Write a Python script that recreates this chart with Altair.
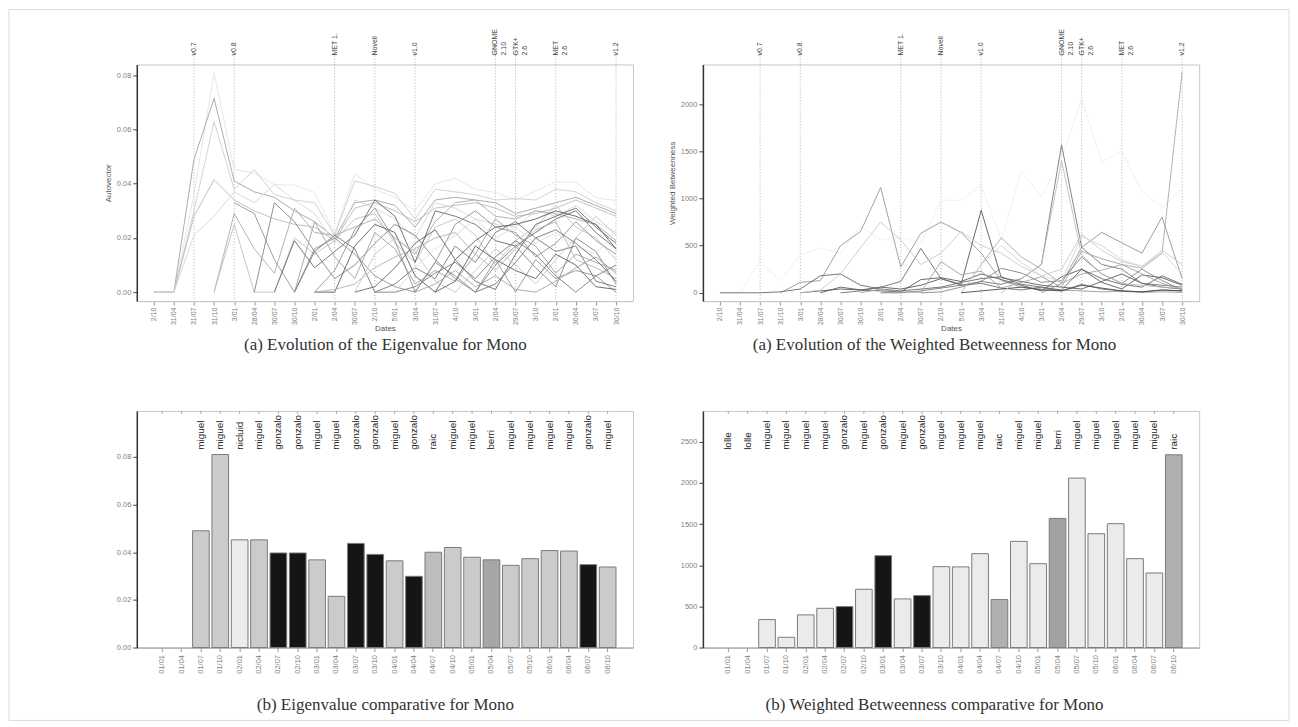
import altair as alt
import pandas as pd

N = None

# ---------------- data ----------------
top_dates = ["2/10", "31/04", "31/07", "31/10", "3/01", "28/04", "30/07", "30/10",
             "2/01", "2/04", "30/07", "2/10", "5/01", "3/04", "31/07", "4/10",
             "3/01", "2/04", "29/07", "3/10", "2/01", "30/04", "3/07", "30/10"]

bar_dates = ["01/01", "01/04", "01/07", "01/10", "02/01", "02/04", "02/07", "02/10",
             "03/01", "03/04", "03/07", "03/10", "04/01", "04/04", "04/07", "04/10",
             "05/01", "05/04", "05/07", "05/10", "06/01", "06/04", "06/07", "06/10"]

release_pos = [2, 4, 9, 11, 13, 17, 18, 20, 23]
release_labels = ["v0.7", "v0.8", "MET 1.", "Novell", "v1.0",
                  "GNOME\n2.10", "GTK+\n2.6", "MET\n2.6", "v1.2"]

# Eigenvalue per developer over time
eig_series = {
    "s01": [0, 0, .036, .081, .0452, .0440, .0397, .0395, .0368, .0215, .0437, .0380, .0350, .0299, .0400, .0420, .0379, .0368, .0340, .0373, .0407, .0405, .0348, .0338],
    "s02": [0, 0, .049, .0715, .041, .037, .035, .030, .026, .020, .033, .034, .032, .024, .034, .035, .034, .033, .029, .031, .033, .035, .032, .029],
    "s03": [0, 0, .030, .063, .038, .0452, .036, .034, .033, .021, .041, .039, .0364, .027, .038, .037, .036, .034, .0345, .034, .038, .037, .033, .030],
    "s04": [0, 0, .028, .0415, .034, .030, .027, .025, .024, .019, .031, .033, .030, .026, .031, .032, .033, .031, .028, .029, .031, .034, .031, .028],
    "s05": [0, 0, .021, .028, .037, .033, .0397, .034, .029, .018, .034, .031, .027, .020, .033, .031, .027, .025, .024, .030, .028, .032, .026, .022],
    "s06": [N, N, N, 0, .029, .016, .007, .031, .022, .021, .024, .027, .020, .014, .026, .033, .034, .028, .027, .030, .029, .027, .025, .019],
    "s07": [N, N, N, 0, .025, 0, 0, .020, .014, .019, .027, .029, .018, .011, .024, .027, .021, .010, .019, .024, .032, .024, .020, .012],
    "s08": [N, N, N, N, .033, .029, .012, 0, .016, .020, .014, .006, .002, 0, .011, .006, 0, .012, 0, .012, .005, .008, .006, 0],
    "s09": [N, N, N, N, N, 0, .033, .026, .015, .005, .010, .018, .025, .021, .012, .005, 0, .010, .017, .009, .002, .020, .015, .003],
    "s10": [N, N, N, N, N, N, 0, .019, .009, .015, .021, .034, .028, .011, .030, .028, .025, .019, .017, .022, .027, .030, .022, .016],
    "s11": [N, N, N, N, N, N, N, 0, .015, .021, .016, 0, .003, .009, .005, .017, .011, .022, .026, .020, .015, .017, .004, .002],
    "s12": [N, N, N, N, N, N, N, 0, .026, .013, .005, .022, .016, .003, .008, .004, .014, .027, .021, .017, .007, .014, .011, .008],
    "s13": [N, N, N, N, N, N, N, N, 0, 0, .017, .025, .022, .006, 0, .012, .019, .024, .025, .027, .030, .028, .025, .016],
    "s14": [N, N, N, N, N, N, N, N, 0, .008, .023, .031, .019, 0, .011, .025, .030, .024, .022, .013, .018, .026, .019, .014],
    "s15": [N, N, N, N, N, N, N, N, 0, .001, .003, .009, .013, .016, .020, .022, .014, .008, .016, .023, .026, .012, .009, .005],
    "s16": [N, N, N, N, N, N, N, N, N, N, 0, .002, .009, .018, .023, .012, .004, .001, .014, .025, .028, .031, .024, .018],
    "s17": [N, N, N, N, N, N, N, N, N, N, 0, .014, .020, .015, .004, 0, .008, .016, .010, .003, .012, .020, .028, .021],
    "s18": [N, N, N, N, N, N, N, N, N, N, N, 0, 0, .002, .007, .011, .005, .013, .019, .014, .006, 0, .006, .010],
    "s19": [N, N, N, N, N, N, N, N, N, N, N, N, 0, .009, .016, .021, .027, .020, .024, .018, .022, .017, .014, .023],
    "s20": [N, N, N, N, N, N, N, N, N, N, N, N, N, 0, .003, .008, .002, .006, .001, 0, .004, .009, .013, .007],
    "s21": [N, N, N, N, N, N, N, N, N, N, N, N, N, N, 0, .004, .017, .012, .008, .005, .014, .010, .002, .001],
    "s22": [N, N, N, N, N, N, N, N, N, N, N, N, N, N, N, N, 0, .003, .011, .020, .023, .018, .012, .004],
}
eig_grays = ["#e4e4e4", "#a4a4a4", "#cdcdcd", "#bababa", "#d6d6d6", "#ababab", "#c2c2c2", "#939393",
             "#858585", "#6a6a6a", "#777777", "#a2a2a2", "#5e5e5e", "#919191", "#b2b2b2", "#666666",
             "#c6c6c6", "#7e7e7e", "#dcdcdc", "#a3a3a3", "#606060", "#747474"]

# Weighted betweenness per developer over time
btw_series = {
    "r01": [0, 0, 340, 125, 397, 477, 420, 708, 560, 591, 520, 983, 980, 1141, 560, 1290, 1019, 1420, 2059, 1383, 1505, 1080, 906, 1100],
    "r02": [N, N, N, 0, 110, 130, 498, 650, 1116, 275, 631, 750, 640, 420, 130, 60, 40, 30, 20, 10, 15, 5, 10, 5],
    "r03": [N, N, N, N, 0, 20, 40, 30, 60, 40, 80, 150, 89, 875, 160, 120, 80, 60, 40, 120, 200, 100, 60, 40],
    "r04": [N, N, N, N, N, N, N, N, 0, 0, 20, 50, 80, 120, 90, 150, 300, 1569, 482, 300, 250, 100, 80, 60],
    "r05": [N, N, N, N, N, N, N, N, N, N, N, N, 0, 300, 583, 380, 250, 100, 200, 240, 300, 260, 420, 2342],
    "r06": [N, N, N, N, N, N, N, N, N, N, N, N, N, N, N, N, 0, 100, 482, 640, 530, 420, 803, 150],
    "r07": [N, N, N, N, N, N, 0, 20, 60, 120, 470, 150, 80, 100, 50, 30, 60, 20, 90, 40, 20, 10, 30, 20],
    "r08": [N, N, N, N, 0, 30, 200, 480, 750, 560, 300, 420, 650, 500, 420, 280, 180, 250, 620, 450, 330, 280, 450, 300],
    "r09": [0, 0, 0, 10, 40, 180, 200, 80, 40, 20, 40, 60, 110, 150, 170, 90, 60, 30, 250, 150, 90, 60, 180, 90],
    "r10": [N, N, N, N, N, 0, 60, 30, 20, 10, 140, 160, 120, 200, 140, 80, 20, 170, 250, 110, 40, 190, 160, 80],
    "r11": [N, N, N, N, N, N, N, 0, 40, 10, 5, 330, 190, 230, 50, 110, 170, 60, 440, 360, 300, 200, 100, 40],
    "r12": [N, N, N, N, N, N, N, N, N, N, 0, 10, 60, 120, 260, 210, 110, 130, 380, 200, 100, 250, 130, 30],
    "r13": [N, N, N, N, N, N, N, N, N, N, N, N, 0, 300, 500, 320, 180, 120, 600, 500, 350, 280, 430, 200],
    "r14": [N, N, N, N, N, N, N, N, N, N, N, N, 0, 20, 40, 60, 30, 20, 80, 50, 20, 10, 30, 20],
    "r15": [N, N, N, N, N, N, N, N, N, N, N, N, N, N, 0, 150, 300, 1400, 400, 200, 100, 80, 60, 50],
}
btw_grays = ["#eeeeee", "#999999", "#5a5a5a", "#777777", "#a8a8a8", "#949494", "#707070", "#cacaca",
             "#6a6a6a", "#5a5a5a", "#a2a2a2", "#858585", "#d4d4d4", "#4a4a4a", "#bebebe"]

# Comparative (maximum per date)
eig_top_names = ["", "", "miguel", "miguel", "nicluid", "miguel", "gonzalo", "gonzalo",
                 "miguel", "miguel", "gonzalo", "gonzalo", "miguel", "gonzalo", "raic", "miguel",
                 "miguel", "berri", "miguel", "miguel", "miguel", "miguel", "gonzalo", "miguel"]
eig_top_values = [0, 0, .049, .081, .0452, .0452, .0397, .0397, .0368, .0215, .0437, .0391,
                  .0364, .0299, .0400, .0420, .0379, .0368, .0345, .0373, .0407, .0405, .0348, .0338]

btw_top_names = ["lolle", "lolle", "miguel", "miguel", "miguel", "miguel", "gonzalo", "miguel",
                 "gonzalo", "miguel", "gonzalo", "miguel", "miguel", "miguel", "raic", "miguel",
                 "miguel", "berri", "miguel", "miguel", "miguel", "miguel", "miguel", "raic"]
btw_top_values = [0, 0, 340, 125, 397, 477, 498, 708, 1116, 591, 631, 983,
                  980, 1141, 583, 1290, 1019, 1569, 2059, 1383, 1505, 1080, 906, 2342]

W, H = 497, 237
SANS = "Liberation Sans"
SERIF = "Liberation Serif"


def line_df(series):
    rows = []
    for name, vals in series.items():
        for i, v in enumerate(vals):
            if v is not None:
                rows.append({"s": name, "i": i, "v": v})
    return pd.DataFrame(rows)


one = pd.DataFrame({"k": [0]})
ann_df = pd.DataFrame({"i": release_pos, "label": release_labels})
label_expr = "[" + ",".join("'%s'" % d for d in top_dates) + "][datum.value]"
idx = list(range(len(top_dates)))
xscale_line = alt.Scale(type="point", domain=idx, padding=0.845)


def caption(text, cx, cy):
    return alt.Chart(one).mark_text(font=SERIF, fontSize=17, color="#333").encode(
        x=alt.value(cx), y=alt.value(cy), text=alt.value(text))


def line_panel(series, grays, ydomain, yvals, yfmt, ytitle, cap, capx):
    df = line_df(series)
    xenc = alt.X("i:O", scale=xscale_line,
                 axis=alt.Axis(labelExpr=label_expr, labelAngle=270,
                               labelOverlap=False, labelFont=SANS, labelFontSize=7,
                               labelColor="#808080", tickColor="#999", tickSize=4,
                               domainColor="#c8c8c8", title="Dates", titleFont=SANS,
                               titleFontSize=8, titleFontWeight="normal", titleColor="#555",
                               titlePadding=0, grid=False, labelPadding=2))
    lines = alt.Chart(df).mark_line(strokeWidth=1, opacity=0.9).encode(
        x=xenc,
        y=alt.Y("v:Q", scale=alt.Scale(domain=ydomain, nice=False, zero=False),
                axis=alt.Axis(values=yvals, format=yfmt, labelFont=SANS, labelFontSize=7.5,
                              labelColor="#808080", tickColor="#444", tickSize=4,
                              domainColor="#333", domainWidth=1.5, title=ytitle,
                              titleFont=SANS, titleFontSize=8, titleFontWeight="normal",
                              titleColor="#555", titlePadding=4, grid=False)),
        color=alt.Color("s:N", scale=alt.Scale(domain=list(series.keys()), range=grays),
                        legend=None),
    )
    rules = alt.Chart(ann_df).mark_rule(strokeDash=[1, 2], color="#b0b0b0", strokeWidth=1).encode(
        x=alt.X("i:O", scale=xscale_line), y=alt.value(-12), y2=alt.value(H))
    texts = alt.Chart(ann_df).mark_text(angle=270, align="left", baseline="middle",
                                        fontSize=7, font=SANS, lineBreak="\n",
                                        color="#444").encode(
        x=alt.X("i:O", scale=xscale_line), y=alt.value(-9), text="label:N")
    return alt.layer(rules, lines, texts, caption(cap, capx, 281)).properties(width=W, height=H)


def bar_panel(names, values, cdomain, crange, ydomain, yvals, yfmt, cap, capx):
    df = pd.DataFrame({"d": bar_dates, "n": names, "v": values})
    xscale = alt.Scale(domain=bar_dates, paddingInner=0.14, paddingOuter=0.88)
    xenc = alt.X("d:N", scale=xscale, sort=bar_dates,
                 axis=alt.Axis(labelAngle=270, labelOverlap=False, labelFont=SANS,
                               labelFontSize=7.5, labelColor="#808080", tickColor="#999",
                               tickSize=4, domainColor="#999", title=None, labelPadding=3))
    bars = alt.Chart(df).transform_filter("datum.v > 0").mark_bar(
        stroke="#7a7a7a", strokeWidth=1).encode(
        x=xenc,
        y=alt.Y("v:Q", scale=alt.Scale(domain=ydomain, nice=False),
                axis=alt.Axis(values=yvals, format=yfmt, labelFont=SANS, labelFontSize=7.5,
                              labelColor="#808080", tickColor="#444", tickSize=4,
                              domainColor="#333", domainWidth=1.5, title=None, grid=False)),
        color=alt.Color("n:N", scale=alt.Scale(domain=cdomain, range=crange), legend=None),
    )
    ticks = alt.Chart(df).mark_rule(color="#aaa").encode(
        x=alt.X("d:N", scale=xscale, sort=bar_dates), y=alt.value(0), y2=alt.value(3))
    names_t = alt.Chart(df).mark_text(angle=270, align="left", baseline="middle",
                                      fontSize=10, font=SANS, color="#222").encode(
        x=alt.X("d:N", scale=xscale, sort=bar_dates), y=alt.value(39), text="n:N")
    return alt.layer(ticks, bars, names_t, caption(cap, capx, 295)).properties(width=W, height=H)


frame = alt.Chart(one).mark_rect(fillOpacity=0, stroke="#dcdcdc", strokeWidth=1).encode(
    x=alt.value(-128), y=alt.value(-55), x2=alt.value(1154), y2=alt.value(657))

tl = line_panel(eig_series, eig_grays, [-0.0033, 0.084], [0, .02, .04, .06, .08], ".2f",
                "Autovector", "(a) Evolution of the Eigenvalue for Mono", 249)
tl = alt.layer(frame, tl)
tr = line_panel(btw_series, btw_grays, [-88, 2420], [0, 500, 1000, 1500, 2000], "d",
                "Weighted Betweenness", "(a) Evolution of the Weighted Betweenness for Mono", 232)
bl = bar_panel(eig_top_names, eig_top_values,
               ["", "miguel", "nicluid", "gonzalo", "raic", "berri"],
               ["#ffffff", "#cbcbcb", "#ececec", "#151515", "#bdbdbd", "#a6a6a6"],
               [0, 0.0993], [0, .02, .04, .06, .08], ".2f",
               "(b) Eigenvalue comparative for Mono", 249)
br = bar_panel(btw_top_names, btw_top_values,
               ["lolle", "miguel", "gonzalo", "raic", "berri"],
               ["#ffffff", "#ebebeb", "#151515", "#b0b0b0", "#a2a2a2"],
               [0, 2875], [0, 500, 1000, 1500, 2000, 2500], "d",
               "(b) Weighted Betweenness comparative for Mono", 232)

chart = alt.concat(tl, tr, bl, br, columns=2, spacing={"row": 110, "column": 70},
                   bounds="flush").resolve_scale(color="independent", x="independent",
                                                  y="independent").properties(
    padding=0, background="white").configure_view(stroke="#c8c8c8")

chart.save("out.html", embed_options={"renderer": "svg", "actions": False})
